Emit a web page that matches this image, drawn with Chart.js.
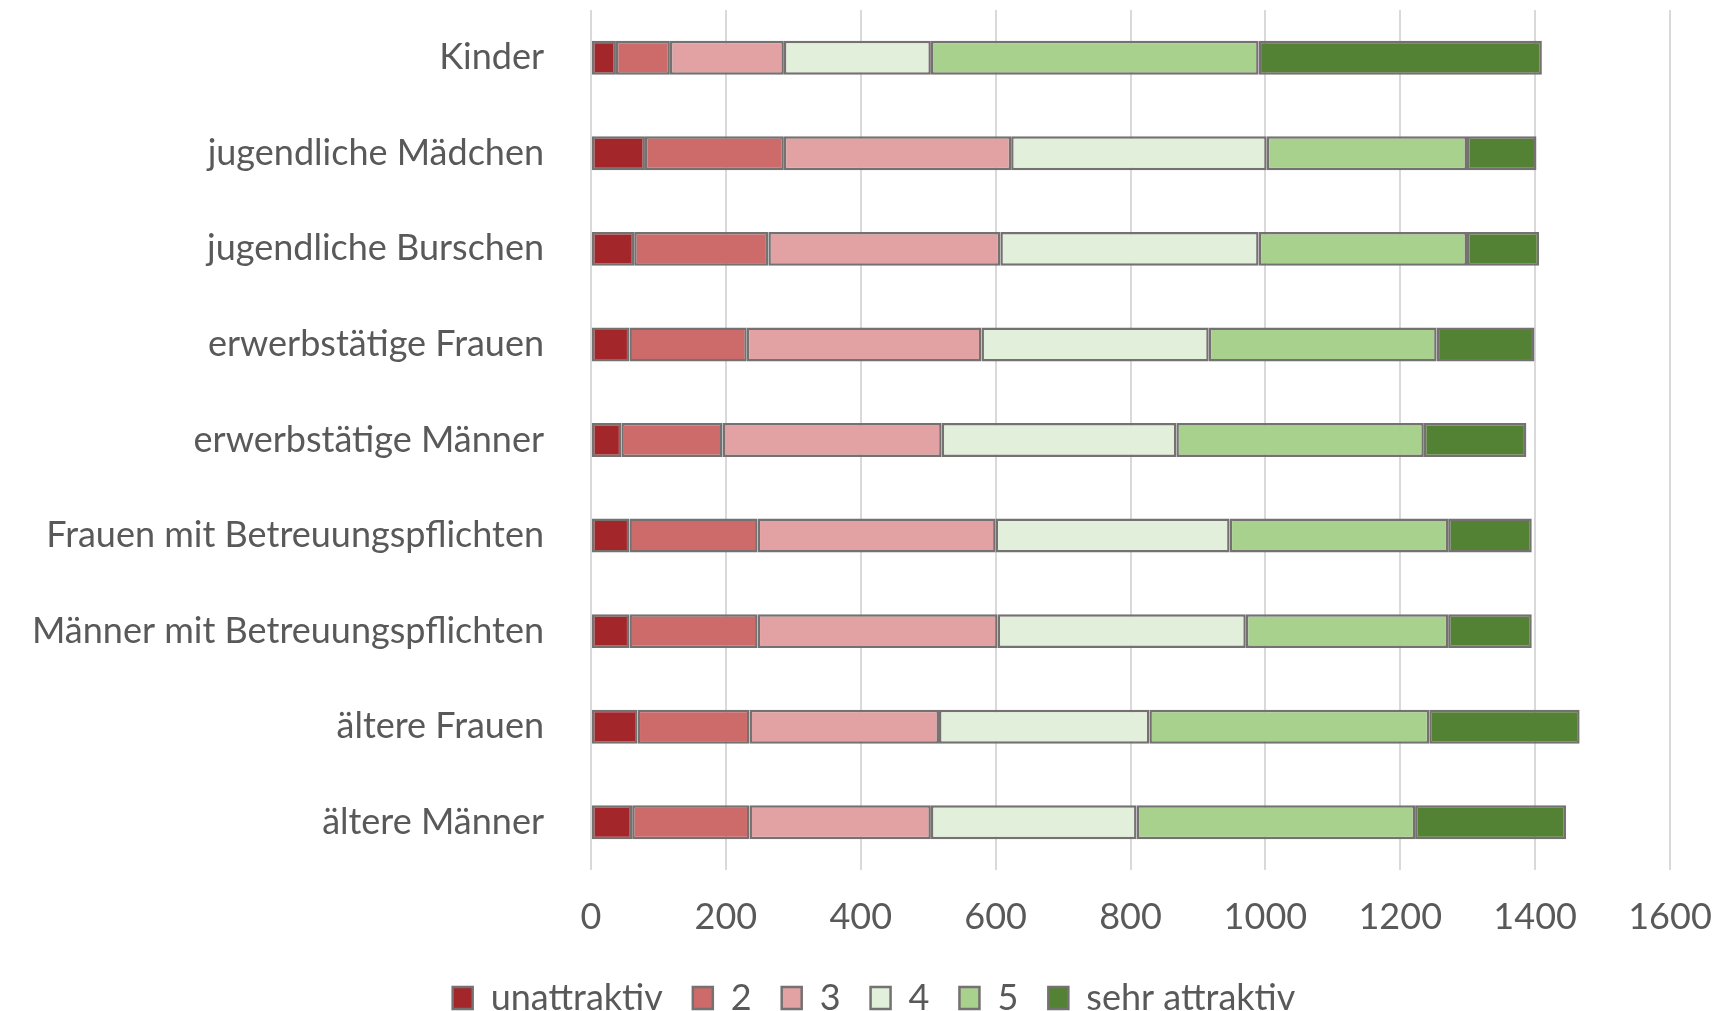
<!DOCTYPE html>
<html>
<head>
<meta charset="utf-8">
<script src="https://cdn.jsdelivr.net/npm/chart.js"></script>
<style>
  html, body { margin: 0; padding: 0; background: #fff; overflow: hidden; }
  #wrap { width: 1715px; height: 1026px; }
</style>
</head>
<body>
<div id="wrap"><canvas id="chart" width="1715" height="1026"></canvas></div>
<script>
const groups = [
  "Kinder",
  "jugendliche Mädchen",
  "jugendliche Burschen",
  "erwerbstätige Frauen",
  "erwerbstätige Männer",
  "Frauen mit Betreuungspflichten",
  "Männer mit Betreuungspflichten",
  "ältere Frauen",
  "ältere Männer",
];
const ratings = ["unattraktiv", "2", "3", "4", "5", "sehr attraktiv"];

// counts per rating, one entry per group (same order as groups)
const unattraktiv = [37, 80, 64, 57, 45, 57, 57, 69, 61];
const r2 = [80, 206, 199, 174, 150, 190, 190, 166, 174];
const r3 = [169, 337, 344, 348, 325, 353, 356, 281, 269];
const r4 = [218, 379, 383, 337, 348, 347, 368, 312, 305];
const r5 = [486, 297, 309, 338, 367, 324, 300, 415, 413];
const sehrAttraktiv = [420, 103, 107, 145, 152, 124, 124, 223, 224];

const xTicks = [0, 200, 400, 600, 800, 1000, 1200, 1400, 1600];

const colors = ["#A3262B", "#CD6A6A", "#E2A1A3", "#E2EFDA", "#A9D18E", "#548235"];
const series = [unattraktiv, r2, r3, r4, r5, sehrAttraktiv];

const font = { family: "Lato", size: 36 };

// nudge the legend a bit right, it is not centred on the canvas in the original
const legendShift = {
  id: "legendShift",
  afterLayout(chart) {
    chart.legend.left += 78;
  },
};

new Chart(document.getElementById("chart"), {
  type: "bar",
  data: {
    labels: groups,
    datasets: ratings.map((name, i) => ({
      label: name,
      data: series[i],
      backgroundColor: colors[i],
      borderColor: "#767171",
      borderWidth: 2.5,
      borderSkipped: false,
      barPercentage: 0.355,
      categoryPercentage: 1,
    })),
  },
  plugins: [legendShift],
  options: {
    indexAxis: "y",
    responsive: false,
    devicePixelRatio: 1,
    animation: false,
    layout: { padding: { top: 10, left: 0, right: 45, bottom: 0 } },
    scales: {
      x: {
        stacked: true,
        min: 0,
        max: 1600,
        afterBuildTicks: (scale) => {
          scale.ticks = xTicks.map((v) => ({ value: v }));
        },
        afterFit: (scale) => {
          scale.height = 80;
          scale.paddingLeft = 0;
          scale.paddingRight = 0;
        },
        border: { display: false },
        grid: { color: "#D9D9D9", lineWidth: 2, drawTicks: false },
        ticks: { color: "#595959", font, padding: 26, callback: (v) => String(v) },
      },
      y: {
        stacked: true,
        afterFit: (scale) => {
          scale.width = 591;
          scale.paddingTop = 0;
          scale.paddingBottom = 0;
        },
        border: { display: false },
        grid: { display: false },
        ticks: { color: "#595959", font, padding: 39 },
      },
    },
    plugins: {
      tooltip: { enabled: false },
      legend: {
        position: "bottom",
        labels: {
          color: "#595959",
          font,
          boxWidth: 20,
          boxHeight: 22,
          padding: 30,
        },
      },
    },
  },
});
</script>
</body>
</html>
